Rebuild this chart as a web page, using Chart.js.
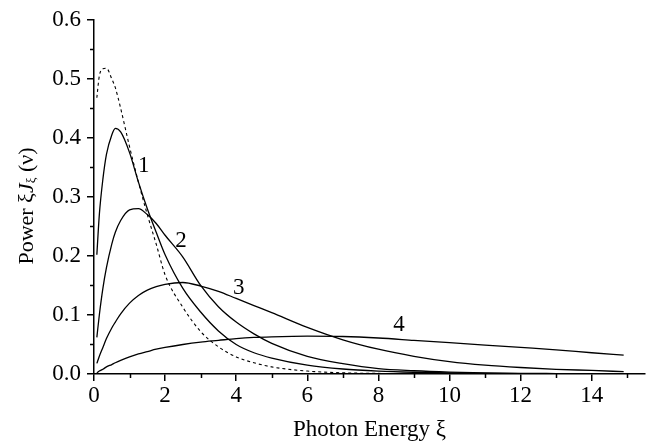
<!DOCTYPE html>
<html>
<head>
<meta charset="utf-8">
<script src="https://cdn.jsdelivr.net/npm/chart.js@4.4.1/dist/chart.umd.min.js"></script>
<style>
  html, body { margin: 0; padding: 0; background: #fff; }
  canvas { display: block; }
</style>
</head>
<body>
<canvas id="chart" width="654" height="447"></canvas>
<script>
// ===== Data =====
const energy = [0.08, 0.15, 0.25, 0.35, 0.5, 0.6, 0.75, 1.0, 1.25, 1.5, 1.75, 2.0, 2.5, 3.0, 3.5,
                4.0, 4.5, 5.0, 6.0, 7.0, 8.0, 9.0, 10, 11, 12, 13, 14, 14.9];

const powerDashed = [0.468, 0.505, 0.517, 0.518, 0.50, 0.485, 0.45, 0.385, 0.325, 0.27, 0.22, 0.168, 0.113, 0.072, 0.046,
                     0.029, 0.019, 0.012, 0.005, 0.002, 0.001, 0.0005, 0.0003, 0.0002, 0.0001, 0.0001, 0, 0];
const power1 = [0.202, 0.27, 0.33, 0.372, 0.405, 0.416, 0.41, 0.375, 0.325, 0.28, 0.24, 0.202, 0.145, 0.105, 0.073,
                0.05, 0.036, 0.027, 0.015, 0.0085, 0.005, 0.003, 0.0018, 0.001, 0.0006, 0.0004, 0.0002, 0.0001];
const power2 = [0.062, 0.10, 0.145, 0.18, 0.22, 0.24, 0.26, 0.278, 0.28, 0.27, 0.255, 0.235, 0.198, 0.15, 0.114,
                0.088, 0.068, 0.052, 0.030, 0.0175, 0.009, 0.0055, 0.0033, 0.002, 0.0012, 0.0008, 0.0005, 0.0003];
const power3 = [0.018, 0.03, 0.045, 0.06, 0.078, 0.088, 0.102, 0.12, 0.133, 0.142, 0.148, 0.152, 0.155, 0.149, 0.14,
                0.128, 0.116, 0.104, 0.079, 0.058, 0.042, 0.030, 0.021, 0.015, 0.011, 0.008, 0.006, 0.004];
const power4 = [0.002, 0.005, 0.008, 0.012, 0.016, 0.019, 0.023, 0.029, 0.034, 0.038, 0.042, 0.045, 0.05, 0.054, 0.057,
                0.060, 0.062, 0.063, 0.064, 0.0635, 0.061, 0.057, 0.053, 0.049, 0.045, 0.041, 0.036, 0.032];

// curve labels and where they sit (data coords)
const curveLabels = ['1', '2', '3', '4'];
const labelX = [1.40, 2.45, 4.07, 8.58];
const labelY = [0.352, 0.226, 0.146, 0.0836];

const xMajorTicks = [0, 2, 4, 6, 8, 10, 12, 14];
const xMinorTicks = [1, 3, 5, 7, 9, 11, 13, 15];
const yMajorTicks = [0, 0.1, 0.2, 0.3, 0.4, 0.5, 0.6];
const yMinorTicks = [0.05, 0.15, 0.25, 0.35, 0.45, 0.55];

const FONT = "'Liberation Serif', 'DejaVu Serif', serif";

function toPoints(ys) {
    return energy.map((x, i) => ({ x: x, y: ys[i] }));
}

// ===== Plugins =====
const extras = {
    id: 'extras',
    afterDraw(chart) {
        const ctx = chart.ctx;
        const xs = chart.scales.x;
        const ys = chart.scales.y;
        const area = chart.chartArea;

        // minor ticks
        ctx.save();
        ctx.strokeStyle = '#000';
        ctx.lineWidth = 1.5;
        ctx.beginPath();
        xMinorTicks.forEach(v => {
            const px = Math.round(xs.getPixelForValue(v)) + 0.5;
            ctx.moveTo(px, area.bottom);
            ctx.lineTo(px, area.bottom + 4);
        });
        yMinorTicks.forEach(v => {
            const py = Math.round(ys.getPixelForValue(v)) + 0.5;
            ctx.moveTo(area.left, py);
            ctx.lineTo(area.left - 4, py);
        });
        ctx.stroke();

        // curve labels
        ctx.fillStyle = '#000';
        ctx.font = '23px ' + FONT;
        ctx.textAlign = 'center';
        ctx.textBaseline = 'middle';
        curveLabels.forEach((t, i) => {
            ctx.fillText(t, xs.getPixelForValue(labelX[i]), ys.getPixelForValue(labelY[i]));
        });

        // y axis title: Power ξJξ (ν)
        const parts = [
            { text: 'Power \u03BE', font: '22px ' + FONT, dy: 0 },
            { text: 'J', font: 'italic 22px ' + FONT, dy: 0 },
            { text: '\u03BE', font: '13px ' + FONT, dy: 5 },
            { text: ' (\u03BD)', font: '22px ' + FONT, dy: 0 }
        ];
        let total = 0;
        parts.forEach(p => { ctx.font = p.font; p.w = ctx.measureText(p.text).width; total += p.w; });
        ctx.translate(27, 206);
        ctx.rotate(-Math.PI / 2);
        ctx.textAlign = 'left';
        ctx.textBaseline = 'middle';
        let cx = -total / 2;
        parts.forEach(p => {
            ctx.font = p.font;
            ctx.fillText(p.text, cx, p.dy);
            cx += p.w;
        });
        ctx.restore();
    }
};

// ===== Chart =====
const ctx = document.getElementById('chart').getContext('2d');
new Chart(ctx, {
    type: 'line',
    data: {
        datasets: [
            { data: toPoints(powerDashed), borderDash: [3, 3], borderWidth: 1.1 },
            { data: toPoints(power1) },
            { data: toPoints(power2) },
            { data: toPoints(power3) },
            { data: toPoints(power4) }
        ]
    },
    options: {
        responsive: false,
        animation: false,
        devicePixelRatio: 1,
        layout: { padding: { top: 15, right: 9, left: 0, bottom: 0 } },
        elements: {
            point: { radius: 0 },
            line: { borderColor: '#000', borderWidth: 1.3, cubicInterpolationMode: 'monotone', fill: false }
        },
        plugins: {
            legend: { display: false },
            tooltip: { enabled: false }
        },
        scales: {
            x: {
                type: 'linear',
                min: 0,
                max: 15.5,
                afterBuildTicks: s => { s.ticks = xMajorTicks.map(v => ({ value: v })); },
                afterFit: s => { s.height = 73; },
                ticks: { color: '#000', font: { family: FONT, size: 23 }, padding: 1, maxRotation: 0 },
                grid: { drawOnChartArea: false, color: '#000', tickLength: 7, lineWidth: 1.5 },
                border: { color: '#000', width: 1.5 },
                title: {
                    display: true,
                    text: 'Photon Energy \u03BE',
                    color: '#000',
                    font: { family: FONT, size: 23 },
                    padding: { top: 0, bottom: 3 }
                }
            },
            y: {
                type: 'linear',
                min: 0,
                max: 0.6,
                afterBuildTicks: s => { s.ticks = yMajorTicks.map(v => ({ value: v })); },
                afterFit: s => { s.width = 94; },
                ticks: { color: '#000', font: { family: FONT, size: 23 }, padding: 6, callback: v => v.toFixed(1) },
                grid: { drawOnChartArea: false, color: '#000', tickLength: 7, lineWidth: 1.5 },
                border: { color: '#000', width: 1.5 }
            }
        }
    },
    plugins: [extras]
});
</script>
</body>
</html>
